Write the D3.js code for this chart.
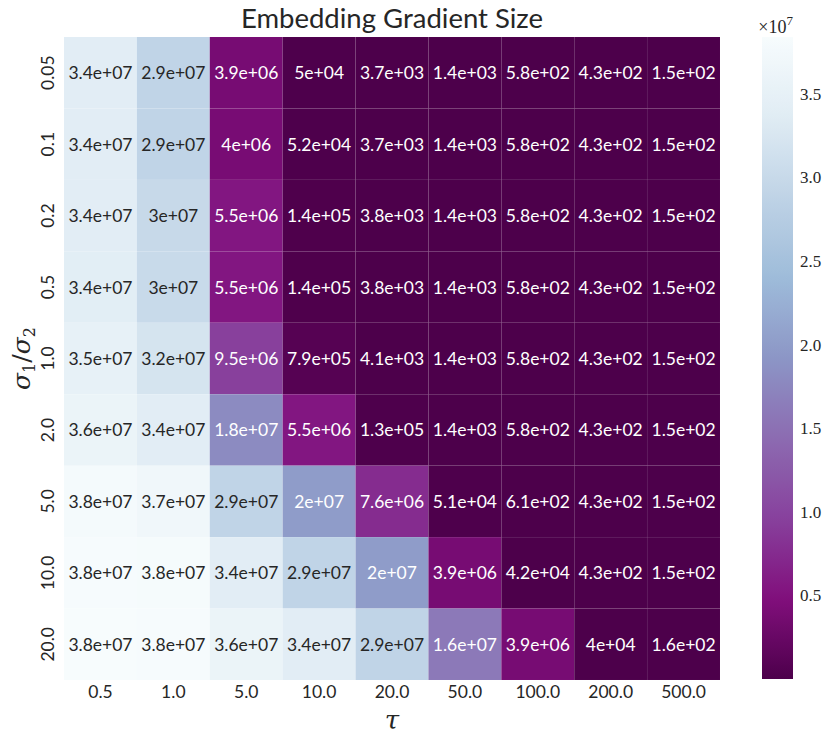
<!DOCTYPE html>
<html>
<head>
<meta charset="utf-8">
<script src="https://cdn.jsdelivr.net/npm/d3@7"></script>
<style>
  body { margin: 0; background: #fff; }
  text { fill: #262626; }
</style>
</head>
<body>
<svg id="chart"></svg>
<script>
const width = 830;
const height = 741;
const margin = { top: 37, left: 64 };
const plotW = 656;
const plotH = 643;

// data
const tauLabels = ["0.5", "1.0", "5.0", "10.0", "20.0", "50.0", "100.0", "200.0", "500.0"];
const ratioLabels = ["0.05", "0.1", "0.2", "0.5", "1.0", "2.0", "5.0", "10.0", "20.0"];
const grad005 = [3.40e7, 2.90e7, 3.9e6, 5.0e4, 3.7e3, 1.4e3, 5.8e2, 4.3e2, 1.5e2];
const grad01  = [3.40e7, 2.90e7, 4.0e6, 5.2e4, 3.7e3, 1.4e3, 5.8e2, 4.3e2, 1.5e2];
const grad02  = [3.40e7, 3.00e7, 5.5e6, 1.4e5, 3.8e3, 1.4e3, 5.8e2, 4.3e2, 1.5e2];
const grad05  = [3.41e7, 3.01e7, 5.5e6, 1.4e5, 3.8e3, 1.4e3, 5.8e2, 4.3e2, 1.5e2];
const grad1   = [3.50e7, 3.20e7, 9.5e6, 7.9e5, 4.1e3, 1.4e3, 5.8e2, 4.3e2, 1.5e2];
const grad2   = [3.60e7, 3.40e7, 1.8e7, 5.5e6, 1.3e5, 1.4e3, 5.8e2, 4.3e2, 1.5e2];
const grad5   = [3.78e7, 3.70e7, 2.9e7, 2.0e7, 7.6e6, 5.1e4, 6.1e2, 4.3e2, 1.5e2];
const grad10  = [3.82e7, 3.80e7, 3.4e7, 2.9e7, 2.0e7, 3.9e6, 4.2e4, 4.3e2, 1.5e2];
const grad20  = [3.84e7, 3.82e7, 3.6e7, 3.4e7, 2.9e7, 1.6e7, 3.9e6, 4.0e4, 1.6e2];
const gradRows = [grad005, grad01, grad02, grad05, grad1, grad2, grad5, grad10, grad20];
const cbarTicks = [0.5, 1.0, 1.5, 2.0, 2.5, 3.0, 3.5];

const cells = [];
gradRows.forEach((row, i) => {
    row.forEach((v, j) => {
        cells.push({ row: ratioLabels[i], col: tauLabels[j], value: v });
    });
});

// matplotlib BuPu, reversed
const bupu = ["#f7fcfd", "#e0ecf4", "#bfd3e6", "#9ebcda", "#8c96c6", "#8c6bb1", "#88419d", "#810f7c", "#4d004b"];
const extent = d3.extent(cells, d => d.value);
const colorT = d3.scaleLinear()
    .domain(d3.range(9).map(k => k / 8))
    .range(bupu.slice().reverse())
    .interpolate(d3.interpolateRgb);
const norm = d3.scaleLinear().domain(extent).range([0, 1]).clamp(true);
const color = v => colorT(norm(v));

function luminance(c) {
    const rgb = d3.rgb(c);
    const lin = [rgb.r, rgb.g, rgb.b].map(x => {
        x /= 255;
        return x <= 0.03928 ? x / 12.92 : Math.pow((x + 0.055) / 1.055, 2.4);
    });
    return 0.2126 * lin[0] + 0.7152 * lin[1] + 0.0722 * lin[2];
}

// mimic python's "%.2g"
function fmt(v) {
    let s = v.toExponential(1);
    let [m, e] = s.split("e");
    if (m.endsWith(".0")) m = m.slice(0, -2);
    const sign = e[0] === "-" ? "-" : "+";
    let ex = e.replace(/[+-]/, "");
    if (ex.length < 2) ex = "0" + ex;
    return m + "e" + sign + ex;
}

const svg = d3.select("#chart")
    .attr("width", width)
    .attr("height", height);

const xScale = d3.scaleBand()
    .domain(tauLabels)
    .range([margin.left, margin.left + plotW]);

const yScale = d3.scaleBand()
    .domain(ratioLabels)
    .range([margin.top, margin.top + plotH]);

svg.selectAll(".cell")
    .data(cells)
    .enter()
    .append("rect")
    .attr("class", "cell")
    .attr("x", d => xScale(d.col))
    .attr("y", d => yScale(d.row))
    .attr("width", xScale.bandwidth())
    .attr("height", yScale.bandwidth())
    .attr("fill", d => color(d.value))
    .attr("stroke", "rgba(255,255,255,0.035)")
    .attr("stroke-width", 0.6);

svg.selectAll(".annot")
    .data(cells)
    .enter()
    .append("text")
    .attr("class", "annot")
    .attr("x", d => xScale(d.col) + xScale.bandwidth() / 2)
    .attr("y", d => yScale(d.row) + yScale.bandwidth() / 2)
    .attr("text-anchor", "middle")
    .attr("dominant-baseline", "central")
    .style("font-family", "Lato, 'Open Sans', sans-serif")
    .style("font-size", "17.5px")
    .style("fill", d => luminance(color(d.value)) > 0.408 ? "#262626" : "#ffffff")
    .text(d => fmt(d.value));

// axes (no tick marks, no domain line)
const xAxis = svg.append("g")
    .attr("transform", `translate(0, ${margin.top + plotH})`)
    .call(d3.axisBottom(xScale).tickSize(0).tickPadding(6));
xAxis.select(".domain").remove();
xAxis.selectAll("text")
    .style("font-family", "Lato, sans-serif")
    .style("font-size", "17.5px")
    .style("fill", "#262626");

const yAxis = svg.append("g")
    .attr("transform", `translate(${margin.left}, 0)`)
    .call(d3.axisLeft(yScale).tickSize(0).tickPadding(0));
yAxis.select(".domain").remove();
yAxis.selectAll("text")
    .attr("transform", d => `translate(-16, ${yScale(d) + yScale.bandwidth() / 2}) rotate(-90)`)
    .attr("x", 0)
    .attr("y", 0)
    .attr("dy", "0.35em")
    .attr("text-anchor", "middle")
    .style("font-family", "Lato, sans-serif")
    .style("font-size", "17.5px")
    .style("fill", "#262626");
yAxis.selectAll(".tick").attr("transform", null);

// title
svg.append("text")
    .attr("x", margin.left + plotW / 2)
    .attr("y", 28)
    .attr("text-anchor", "middle")
    .style("font-family", "Lato, sans-serif")
    .style("font-size", "27.5px")
    .text("Embedding Gradient Size");

// axis labels
svg.append("text")
    .attr("x", margin.left + plotW / 2)
    .attr("y", 729)
    .attr("text-anchor", "middle")
    .style("font-family", "'DejaVu Serif', serif")
    .style("font-style", "italic")
    .style("font-size", "26px")
    .text("τ");

const yLab = svg.append("text")
    .attr("transform", `translate(30, ${margin.top + plotH / 2}) rotate(-90)`)
    .attr("text-anchor", "middle")
    .style("font-family", "'DejaVu Serif', serif")
    .style("font-style", "italic")
    .style("font-size", "25px");
yLab.append("tspan").text("σ");
yLab.append("tspan").attr("dy", 5).style("font-size", "16px").style("font-style", "normal").text("1");
yLab.append("tspan").attr("dy", -5).style("font-style", "normal").text("/");
yLab.append("tspan").text("σ");
yLab.append("tspan").attr("dy", 5).style("font-size", "16px").style("font-style", "normal").text("2");

// colorbar
const cbX = 762;
const cbW = 31;
const cbScale = d3.scaleLinear()
    .domain(extent)
    .range([margin.top + plotH - 1, margin.top]);

const defs = svg.append("defs");
const grad = defs.append("linearGradient")
    .attr("id", "cbgrad")
    .attr("x1", 0).attr("y1", 1)
    .attr("x2", 0).attr("y2", 0);
grad.selectAll("stop")
    .data(d3.range(0, 1.0001, 0.02))
    .enter()
    .append("stop")
    .attr("offset", d => d)
    .attr("stop-color", d => colorT(d));

svg.append("rect")
    .attr("x", cbX)
    .attr("y", cbScale.range()[1])
    .attr("width", cbW)
    .attr("height", cbScale.range()[0] - cbScale.range()[1])
    .attr("fill", "url(#cbgrad)");

const cbAxis = svg.append("g")
    .attr("transform", `translate(${cbX + cbW}, 0)`)
    .call(d3.axisRight(cbScale)
        .tickValues(cbarTicks.map(t => t * 1e7))
        .tickFormat(d => d3.format(".1f")(d / 1e7))
        .tickSize(0)
        .tickPadding(7));
cbAxis.select(".domain").remove();
cbAxis.selectAll("text")
    .style("font-family", "'Liberation Serif', 'DejaVu Serif', serif")
    .style("font-size", "17px")
    .style("fill", "#262626");

const mult = svg.append("text")
    .attr("x", cbX + cbW)
    .attr("y", 33)
    .attr("text-anchor", "end")
    .style("font-family", "'Liberation Serif', serif")
    .style("font-size", "18px");
mult.append("tspan").text("×10");
mult.append("tspan").attr("dy", -8).style("font-size", "13px").text("7");
</script>
</body>
</html>
